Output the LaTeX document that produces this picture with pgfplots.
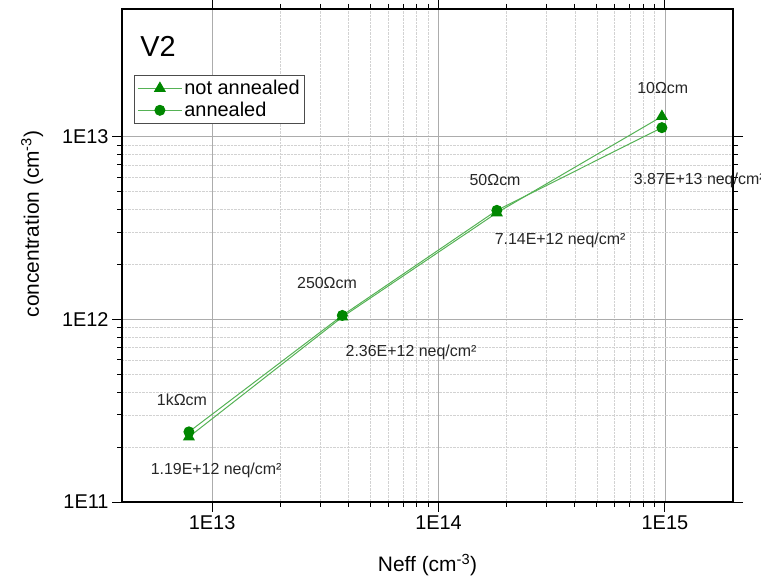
\documentclass[border=0pt]{standalone}
\usepackage{fontspec}
\setmainfont{Liberation Sans}
\usepackage{pgfplots}
\pgfplotsset{compat=1.18}
\definecolor{lgreen}{RGB}{85,178,85}
\definecolor{mgreen}{RGB}{0,135,0}
\begin{document}
\begin{tikzpicture}
\useasboundingbox (-122bp,-78bp) rectangle (639bp,502bp);
\begin{axis}[
  at={(0,0)}, anchor=south west,
  scale only axis, width=611bp, height=493bp,
  xmode=log, ymode=log,
  xmin=4e12, xmax=2e15, ymin=1e11, ymax=5e13,
  xtick={1e13,1e14,1e15}, xticklabels={1E13,1E14,1E15},
  ytick={1e11,1e12,1e13}, yticklabels={1E11,1E12,1E13},
  grid=both,
  major grid style={gray!65, line width=0.6pt},
  minor grid style={densely dotted, gray!35, line width=0.5pt},
  tick align=outside, major tick length=10bp, minor tick length=5bp,
  tick style={black, line width=0.9pt},
  axis line style={line width=1.6pt},
  ticklabel style={font=\fontsize{20}{24}\selectfont},
  xlabel={Neff (cm\textsuperscript{-3})},
  ylabel={concentration (cm\textsuperscript{-3})},
  label style={font=\fontsize{21}{25}\selectfont},
  xlabel style={at={(axis description cs:0.5,-0.128)}, anchor=center},
  ylabel style={at={(axis description cs:-0.147,0.564)}, anchor=center},
  legend style={at={(rel axis cs:0.0196,0.866)}, anchor=north west,
    font=\fontsize{20}{24}\selectfont, draw=black!70, line width=0.8pt,
    inner xsep=3pt, inner ysep=3pt, row sep=2pt, fill=white},
  legend image code/.code={%
    \draw[mark repeat=2,mark phase=2] plot coordinates {(0bp,0bp) (22bp,0bp) (44bp,0bp)};},
  legend cell align=left,
  clip=false,
]
\addplot[color=lgreen, line width=1pt, mark=triangle*, mark size=6bp,
  mark options={fill=mgreen, draw=mgreen, solid}]
  coordinates {(7.9e12,2.27e11) (3.76e13,1.03e12) (1.81e14,3.83e12) (9.7e14,1.29e13)};
\addlegendentry{not annealed}
\addplot[color=lgreen, line width=1pt, mark=*, mark size=5bp,
  mark options={fill=mgreen, draw=mgreen, solid}]
  coordinates {(7.9e12,2.42e11) (3.76e13,1.05e12) (1.81e14,3.95e12) (9.7e14,1.12e13)};
\addlegendentry{annealed}

\node[font=\fontsize{29}{34}\selectfont] at (rel axis cs:0.059,0.925) {V2};
\begin{scope}[every node/.style={font=\fontsize{16}{19}\selectfont, text=black!85}]
\node at (rel axis cs:0.098,0.207) {1kΩcm};
\node at (rel axis cs:0.154,0.065) {1.19E+12 neq/cm²};
\node at (rel axis cs:0.3355,0.444) {250Ωcm};
\node at (rel axis cs:0.473,0.304) {2.36E+12 neq/cm²};
\node at (rel axis cs:0.6105,0.653) {50Ωcm};
\node at (rel axis cs:0.717,0.531) {7.14E+12 neq/cm²};
\node at (rel axis cs:0.885,0.840) {10Ωcm};
\node[anchor=west] at (rel axis cs:0.832,0.653) {3.87E+13 neq/cm²};
\end{scope}
\end{axis}
\end{tikzpicture}
\end{document}
